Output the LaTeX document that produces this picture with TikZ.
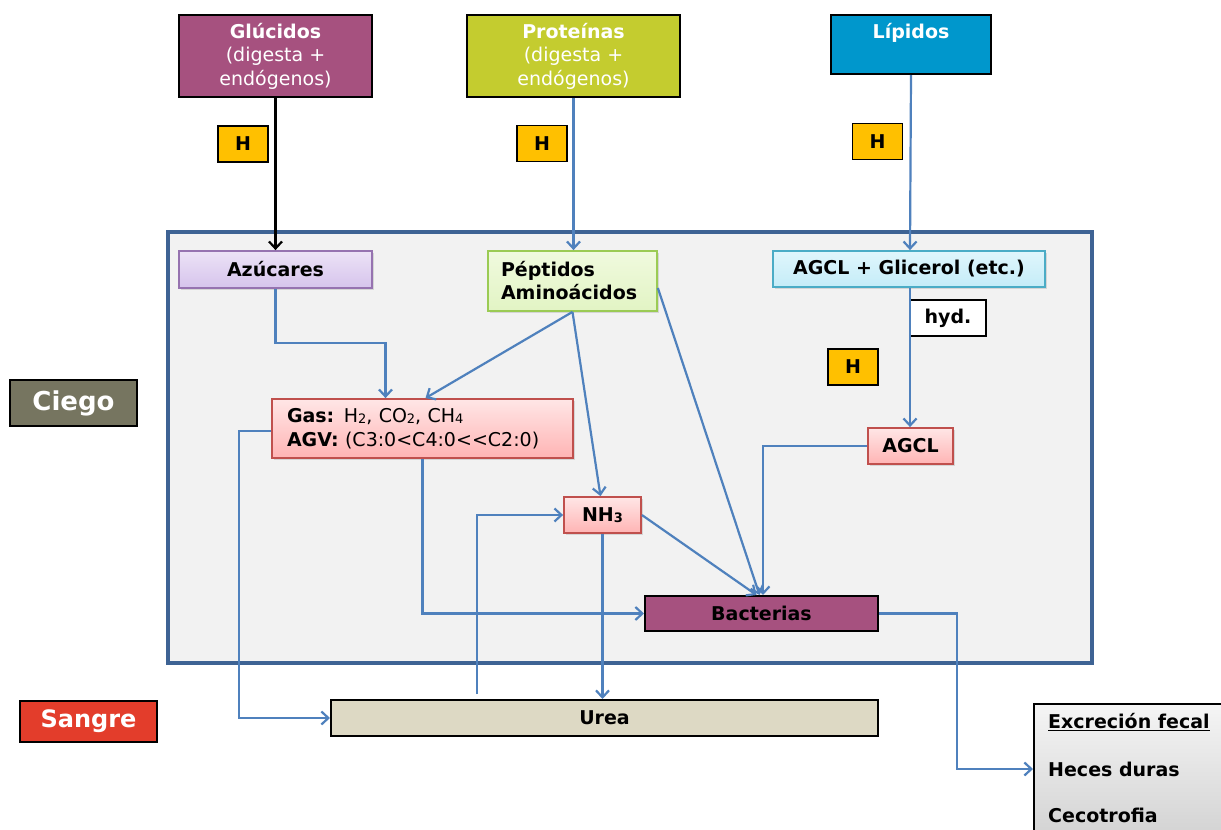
\documentclass[tikz,border=0pt]{standalone}
\usepackage{fontspec}
\setmainfont{DejaVu Sans}
\usetikzlibrary{arrows.meta,calc,shadows}

\definecolor{plum}{RGB}{166,81,127}
\definecolor{olivegreen}{RGB}{196,204,47}
\definecolor{skyblue}{RGB}{0,151,204}
\definecolor{amber}{RGB}{255,192,0}
\definecolor{cecum}{RGB}{242,242,242}
\definecolor{cecumline}{RGB}{62,99,148}
\definecolor{flow}{RGB}{79,129,189}
\definecolor{khaki}{RGB}{221,217,196}
\definecolor{slate}{RGB}{118,117,96}
\definecolor{blood}{RGB}{227,61,43}
\definecolor{pinkline}{RGB}{192,80,77}
\definecolor{lilacline}{RGB}{150,115,176}
\definecolor{greenline}{RGB}{155,203,84}
\definecolor{cyanline}{RGB}{75,172,198}
\definecolor{pinktop}{RGB}{255,230,230}
\definecolor{pinkbot}{RGB}{255,180,180}
\definecolor{lilactop}{RGB}{236,226,246}
\definecolor{lilacbot}{RGB}{214,196,236}
\definecolor{greentop}{RGB}{240,250,222}
\definecolor{greenbot}{RGB}{226,244,196}
\definecolor{cyantop}{RGB}{224,246,252}
\definecolor{cyanbot}{RGB}{196,236,248}

\newcommand\fs{\fontsize{19}{23.5}\selectfont}
\newcommand\lowidx[1]{\raisebox{-1.5pt}{\fontsize{13}{13}\selectfont #1}}

\tikzset{
  box/.style={draw, rectangle, inner sep=0pt, font=\fs, align=center},
  title/.style={box, text=white, line width=2pt},
  hbox/.style={box, fill=amber, line width=1.6pt, minimum width=50pt, minimum height=36pt, font=\bfseries\fs},
  inner/.style={box, font=\bfseries\fs, line width=1.8pt,
    drop shadow={opacity=0.25, shadow xshift=2pt, shadow yshift=-2pt}},
  pinkbox/.style={inner, draw=pinkline, top color=pinktop, bottom color=pinkbot},
  tag/.style={box, text=white, line width=1.6pt},
  conn/.style={draw=flow, line width=2.2pt, -{Straight Barb[length=7pt,width=13pt]}},
  blackconn/.style={conn, draw=black}
}

\begin{document}
\begin{tikzpicture}[x=1pt,y=-1pt]
\useasboundingbox (0,0) rectangle (1221,830);
\clip (0,0) rectangle (1221,830);
\fill[white] (0,0) rectangle (1221,830);

% cecum compartment
\node[draw=cecumline, fill=cecum, line width=3.4pt, rectangle, inner sep=0pt,
      minimum width=924pt, minimum height=431pt] (ciego) at (630,447.5) {};

% nutrient sources
\node[title, fill=plum, minimum width=193pt, minimum height=82pt] (glu) at (275.5,56)
  {\textbf{Glúcidos}\\(digesta +\\endógenos)};
\node[title, fill=olivegreen, minimum width=213pt, minimum height=82pt] (pro) at (573.5,56)
  {\textbf{Proteínas}\\(digesta +\\endógenos)};
\node[title, fill=skyblue, minimum width=160pt, minimum height=59pt] (lip) at (911,44.5) {};
\node[font=\bfseries\fs, text=white, inner sep=0pt] (lipt) at (911,33) {Lípidos};

% hydrolysis marks
\node[hbox] (h1) at (243,144) {H};
\node[hbox] (h2) at (542,143.5) {H};
\node[hbox] (h3) at (877.5,141.5) {H};
\node[hbox] (h4) at (853,367) {H};

% products inside the cecum
\node[inner, draw=lilacline, top color=lilactop, bottom color=lilacbot,
      minimum width=193pt, minimum height=37pt] (azu) at (275.5,269.5) {Azúcares};
\node[inner, draw=greenline, top color=greentop, bottom color=greenbot,
      minimum width=169pt, minimum height=60pt, text width=143pt, align=left,
      font=\bfseries\fontsize{19}{23}\selectfont] (pep) at (572.5,281) {Péptidos\\Aminoácidos};
\node[inner, draw=cyanline, top color=cyantop, bottom color=cyanbot,
      minimum width=272pt, minimum height=36pt] (agg) at (909,269) {AGCL + Glicerol (etc.)};
\node[box, fill=white, line width=1.6pt, font=\bfseries\fs,
      minimum width=76pt, minimum height=36pt] (hyd) at (948,318) {hyd.};
\node[pinkbox, minimum width=85pt, minimum height=36pt] (agcl) at (910.5,446) {AGCL};
\node[pinkbox, minimum width=301pt, minimum height=59pt, text width=271pt, align=left,
      font=\fontsize{19}{24}\selectfont] (gas) at (422.5,428.5)
  {\textbf{Gas:} H\lowidx{2}, CO\lowidx{2}, CH\lowidx{4}\\\textbf{AGV:} (C3:0<C4:0<{}<C2:0)};
\node[pinkbox, minimum width=77pt, minimum height=36pt] (nh3) at (602.5,515) {NH\lowidx{\bfseries 3}};
\node[box, fill=plum, line width=2pt, font=\bfseries\fs,
      minimum width=233pt, minimum height=35pt] (bac) at (761.5,613.5) {Bacterias};

% blood and excretion
\node[box, fill=khaki, line width=2pt, font=\bfseries\fs,
      minimum width=547pt, minimum height=36pt] (urea) at (604.5,718) {Urea};
\node[box, line width=2pt, top color=gray!8, bottom color=gray!38,
      minimum width=210pt, minimum height=150pt, anchor=north west] (exc) at (1033,703) {};
\node[font=\bfseries\fs, anchor=west, inner sep=0pt] (exc1) at (1048,722) {\underline{Excreción fecal}};
\node[font=\bfseries\fs, anchor=west, inner sep=0pt] (exc2) at (1048,769) {Heces duras};
\node[font=\bfseries\fs, anchor=west, inner sep=0pt] (exc3) at (1048,815) {Cecotrofia};

% compartment labels
\node[tag, fill=slate, font=\bfseries\fontsize{26}{30}\selectfont,
      minimum width=127pt, minimum height=46pt] (ciegot) at (73.5,403) {Ciego};
\node[tag, fill=blood, font=\bfseries\fontsize{24}{28}\selectfont,
      minimum width=137pt, minimum height=41pt] (sangre) at (88.5,721.5) {Sangre};

% hydrolysis flows
\draw[blackconn] (glu.south) -- (glu.south |- azu.north);
\draw[conn] (pro.south) -- (pro.south |- pep.north);
\draw[conn] (lip.south) -- ($(lip.south |- agg.north)+(-1,0)$);
\draw[conn] ($(agg.south)+(1,0)$) -- ($(agg.south |- agcl.north)+(1,0)$);

% fermentation flows
\draw[conn] (azu.south) -- ++(0,54) -| ($(gas.north)+(-37,0)$);
\draw[conn] (pep.south) -- ($(gas.north)+(3,0)$);
\draw[conn] (pep.south) -- ($(nh3.north)+(-2,0)$);
\draw[conn] ($(pep.east)+(0,7)$) -- ($(bac.north)+(-2,0)$);
\draw[conn] (nh3.east) -- ($(bac.north)+(-5,0)$);
\draw[conn] (agcl.west) -| ($(bac.north)+(1.5,0)$);
\draw[conn] (gas.south) |- (bac.west);

% exchanges with blood
\draw[conn] ($(gas.west)+(0,2.5)$) -- ++(-32,0) |- (urea.west);
\draw[conn] (nh3.south) -- (nh3.south |- urea.north);
\coordinate (ureaout) at (477,694);
\draw[conn] (ureaout) |- (nh3.west);

% excretion
\draw[conn] (bac.east) -- (957,613.5) |- (exc.west |- exc2.west);
\end{tikzpicture}
\end{document}
